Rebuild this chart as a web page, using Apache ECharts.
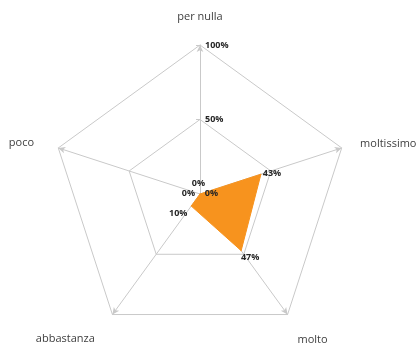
<!DOCTYPE html>
<html><head><meta charset="utf-8">
<script src="https://cdn.jsdelivr.net/npm/echarts@6/dist/echarts.min.js"></script>
<style>html,body{margin:0;padding:0;background:#fff}#c{width:417px;height:346px}</style>
</head><body><div id="c"></div>
<script>
// Indicators in ECharts order (counter-clockwise from top)
const categories = ['per nulla', 'poco', 'abbastanza', 'molto', 'moltissimo'];
const values = [0, 0, 10, 47, 43];
const secondValues = [0, 0, 0, 0, 0];
const tickLabels = ['0%', '50%', '100%'];

// label shift (dx, dy) per dimension, in px
const shifts = [[-1.5, -11], [-11.5, -1], [-13, 7], [9, 6.5], [11, -1]];
const rich = {};
shifts.forEach((s, i) => {
  const dx = s[0], dy = s[1];
  rich['a' + i] = {
    fontSize: 9, fontWeight: 'bold', color: '#262626', fontFamily: 'Open Sans',
    padding: [dy > 0 ? 2 * dy : 0, dx < 0 ? -2 * dx : 0, dy < 0 ? -2 * dy : 0, dx > 0 ? 2 * dx : 0]
  };
});
const nameGaps = [23, 16, 30, 31.5, 12];
const namePads = [[0, 0, 0, 0], [0, 9, 0, 0], [0, 0, 0, 0], [0, 0, 0, 13], [0, 0, 0, 7]];
const nameAligns = [null, null, ['right', 'middle'], ['center', 'middle'], null];

const chart = echarts.init(document.getElementById('c'));
chart.setOption({
  animation: false,
  radar: {
    center: [200, 194],
    radius: 149,
    startAngle: 90,
    shape: 'polygon',
    splitNumber: 2,
    axisName: { color: '#404040', fontSize: 11, fontFamily: 'Open Sans' },
    splitLine: { lineStyle: { color: '#c9c9c9', width: 1 } },
    splitArea: { show: false },
    axisLine: { lineStyle: { color: '#c9c9c9', width: 1 }, symbol: ['none', 'arrow'], symbolSize: [5, 7] },
    axisTick: { show: false },
    axisLabel: { show: false },
    indicator: categories.map((c, i) => {
      const ts = { padding: namePads[i] };
      if (nameAligns[i]) { ts.align = nameAligns[i][0]; ts.verticalAlign = nameAligns[i][1]; }
      const o = { name: c, min: 0, max: 100, nameGap: nameGaps[i], nameTextStyle: ts };
      if (i === 0) {
        o.axisLabel = {
          show: true, showMinLabel: false, fontSize: 9, fontWeight: 'bold', color: '#262626',
          fontFamily: 'Open Sans', margin: -5, align: 'left',
          formatter: v => tickLabels[Math.round(v / 50)]
        };
        o.axisTick = { show: true, length: 4, lineStyle: { color: '#c9c9c9' } };
      }
      return o;
    })
  },
  series: [
    {
      type: 'radar',
      symbol: 'circle', symbolSize: 1,
      itemStyle: { color: '#F7931E' },
      lineStyle: { color: '#F7931E', width: 1 },
      areaStyle: { color: '#F7931E', opacity: 1 },
      label: {
        show: true, position: 'inside',
        formatter: p => '{a' + p.dimensionIndex + '|' + p.value + '%}',
        rich: rich
      },
      data: [{ value: values, name: 'risposte' }]
    },
    {
      type: 'radar',
      symbol: 'circle', symbolSize: 1,
      itemStyle: { color: 'rgba(0,0,0,0)' },
      lineStyle: { width: 0 },
      label: {
        show: true, position: 'inside',
        formatter: p => p.dimensionIndex === 4 ? '{r|' + p.value + '%}' : '',
        rich: { r: { fontSize: 9, fontWeight: 'bold', color: '#262626', fontFamily: 'Open Sans', padding: [0, 0, 2, 23] } }
      },
      data: [{ value: secondValues, name: 'altro' }]
    }
  ]
});
</script></body></html>
